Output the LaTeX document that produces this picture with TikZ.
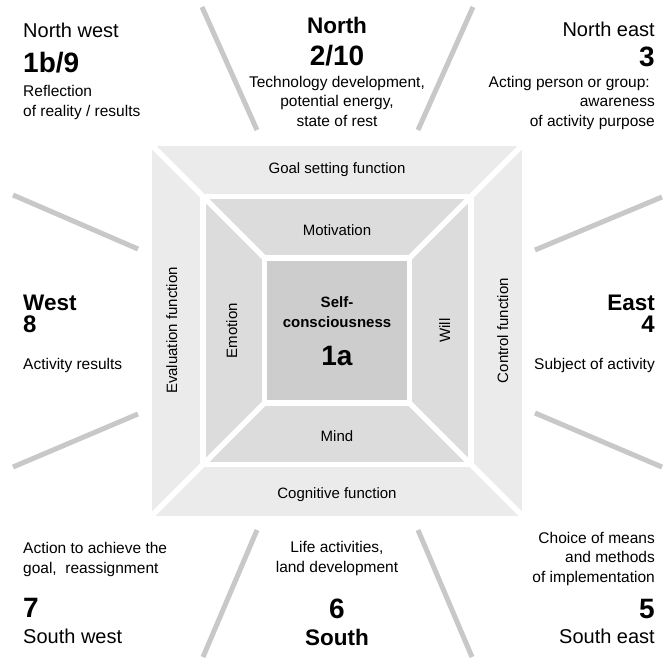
\documentclass[tikz,border=0pt]{standalone}
\usepackage{fontspec}
\setmainfont{Liberation Sans}
\usetikzlibrary{positioning}
\definecolor{ringout}{HTML}{EBEBEB}
\definecolor{ringmid}{HTML}{DCDCDC}
\definecolor{ringin}{HTML}{CDCDCD}
\definecolor{raygray}{HTML}{C8C8C8}
\tikzstyle{dirname}=[
	inner sep=0pt,
	font=\fontsize{20}{24}\selectfont
]
\tikzstyle{dirbold}=[
	inner sep=0pt,
	font=\fontsize{22.5}{26}\selectfont\bfseries
]
\tikzstyle{dirnum}=[
	inner sep=0pt,
	font=\fontsize{28}{30}\selectfont\bfseries
]
\tikzstyle{sidenum}=[
	inner sep=0pt,
	font=\fontsize{24}{26}\selectfont\bfseries
]
\tikzstyle{dirtext}=[
	inner sep=0pt,
	font=\fontsize{15.5}{19.3}\selectfont
]
\tikzstyle{fieldtext}=[
	inner sep=0pt,
	font=\fontsize{15}{19}\selectfont
]
\tikzstyle{gap}=[
	draw=white,
	line width=5.5pt
]
\tikzstyle{ray}=[
	draw=raygray,
	line width=5pt
]

\begin{document}
\begin{tikzpicture}[x=1pt,y=-1pt]
\useasboundingbox (0,0) rectangle (670,657);
% three square rings
\fill[ringout] (152,145.5) rectangle (522,515.5);
\fill[ringmid] (205.5,199) rectangle (468.5,462);
\draw[gap] (203,196.5) rectangle (471,464.5);
\fill[ringin] (267,260.5) rectangle (407,400.5);
\draw[gap] (264.5,258) rectangle (409.5,403);
\draw[gap] (152,145.5) -- (264.5,258);
\draw[gap] (522,145.5) -- (409.5,258);
\draw[gap] (152,515.5) -- (264.5,403);
\draw[gap] (522,515.5) -- (409.5,403);
% rays between the sectors
\draw[ray] (202,7) -- (257,130);
\draw[ray] (473,7) -- (418,130);
\draw[ray] (13,195) -- (138,249);
\draw[ray] (13,467) -- (138,414);
\draw[ray] (662,197) -- (535,250);
\draw[ray] (662,467) -- (535,413);
\draw[ray] (257,530) -- (203,657);
\draw[ray] (418,530) -- (472,657);

% ring labels
\node[fieldtext, anchor=base] (goal) at (337,173) {Goal setting function};
\node[fieldtext, anchor=base] (cognitive) at (337,498) {Cognitive function};
\node[fieldtext, anchor=base, rotate=90] (evaluation) at (177,330.5) {Evaluation function};
\node[fieldtext, anchor=base, rotate=90] (control) at (508,330.5) {Control function};
\node[fieldtext, anchor=base] (motivation) at (337,235) {Motivation};
\node[fieldtext, anchor=base] (mind) at (337,441) {Mind};
\node[fieldtext, anchor=base, rotate=90] (emotion) at (237,330.5) {Emotion};
\node[fieldtext, anchor=base, rotate=90] (will) at (450,330.5) {Will};
\node[fieldtext, anchor=base, font=\fontsize{15}{20}\selectfont\bfseries, align=center] (self) at (337,327) {Self-\\consciousness};
\node[dirnum, anchor=base] (selfnum) at (337,365) {1a};

% north west
\node[dirname, anchor=base west] (nwname) at (23,37) {North west};
\node[dirnum, anchor=base west] (nwnum) at (23,72) {1b/9};
\node[dirtext, anchor=base west, align=left] (nwtext) at (23,116) {Reflection\\of reality / results};
% north
\node[dirbold, anchor=base] (nname) at (337,33) {North};
\node[dirnum, anchor=base] (nnum) at (337,65) {2/10};
\node[dirtext, anchor=base, align=center] (ntext) at (337,126) {Technology development,\\potential energy,\\state of rest};
% north east
\node[dirname, anchor=base east] (nename) at (655,36) {North east};
\node[dirnum, anchor=base east] (nenum) at (655,66) {3};
\node[dirtext, anchor=base east, align=right] (netext) at (655,126) {Acting person or group:\hspace*{5pt}\\awareness\\of activity purpose};
% west
\node[dirbold, anchor=base west] (wname) at (23,310) {West};
\node[sidenum, anchor=base west] (wnum) at (23,332) {8};
\node[dirtext, anchor=base west] (wtext) at (23,369) {Activity results};
% east
\node[dirbold, anchor=base east] (ename) at (655,310) {East};
\node[sidenum, anchor=base east] (enum) at (655,332) {4};
\node[dirtext, anchor=base east] (etext) at (655,369) {Subject of activity};
% south west
\node[dirtext, anchor=base west, align=left] (swtext) at (23,573) {Action to achieve the\\goal,\ \ reassignment};
\node[dirnum, anchor=base west] (swnum) at (23,617) {7};
\node[dirname, anchor=base west] (swname) at (23,643) {South west};
% south
\node[dirtext, anchor=base, align=center] (stext) at (337,572) {Life activities,\\land development};
\node[dirnum, anchor=base] (snum) at (337,618) {6};
\node[dirbold, anchor=base] (sname) at (337,645) {South};
% south east
\node[dirtext, anchor=base east, align=right] (setext) at (655,582) {Choice of means\\and methods\\of implementation};
\node[dirnum, anchor=base east] (senum) at (655,618) {5};
\node[dirname, anchor=base east] (sename) at (655,643) {South east};
\end{tikzpicture}
\end{document}
